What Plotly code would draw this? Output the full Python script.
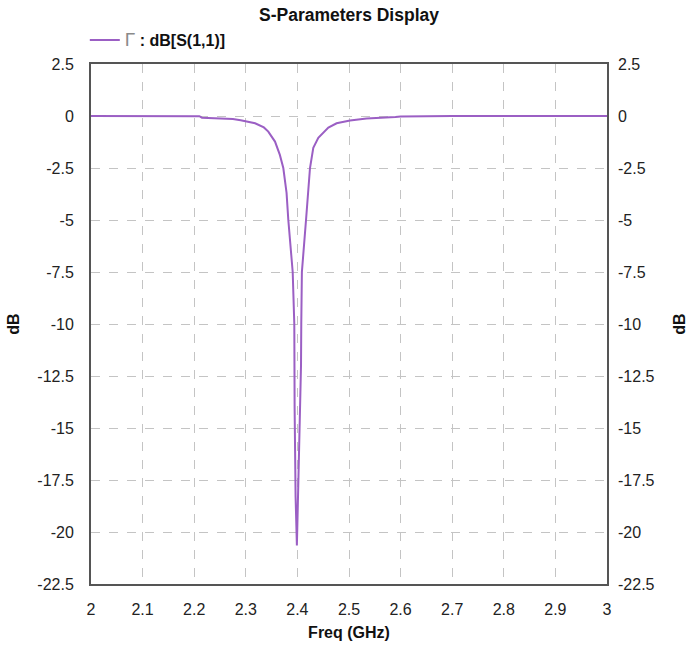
import plotly.graph_objects as go

# Return loss of the antenna port, S(1,1) in dB, versus frequency in GHz
freq_ghz = [
    2.000, 2.100, 2.210, 2.215, 2.275, 2.290, 2.308, 2.318, 2.335, 2.3436,
    2.3566, 2.366, 2.3727, 2.379, 2.3824, 2.3909, 2.3940, 2.3943, 2.3946,
    2.3965, 2.3990, 2.4010, 2.4035, 2.4045, 2.4060, 2.4070, 2.4075, 2.4087,
    2.4167, 2.4200, 2.4244, 2.4308, 2.4405, 2.4600, 2.4760, 2.5020, 2.5340,
    2.5900, 2.6000, 2.7000, 2.8000, 2.9000, 3.0000,
]
s11_db = [
    0.00, 0.00, -0.01, -0.08, -0.14, -0.20, -0.30, -0.35, -0.55, -0.75,
    -1.23, -1.87, -2.50, -3.70, -5.00, -7.50, -10.00, -12.50, -14.00,
    -18.30, -20.65, -18.50, -16.00, -14.50, -13.00, -12.00, -10.00, -7.50,
    -5.00, -3.70, -2.50, -1.53, -1.05, -0.56, -0.35, -0.22, -0.12,
    -0.05, -0.02, 0.00, 0.00, 0.00, 0.00,
]

x_ticks = [2.0, 2.1, 2.2, 2.3, 2.4, 2.5, 2.6, 2.7, 2.8, 2.9, 3.0]
x_tick_text = ["2", "2.1", "2.2", "2.3", "2.4", "2.5", "2.6", "2.7", "2.8", "2.9", "3"]
y_ticks = [2.5, 0, -2.5, -5, -7.5, -10, -12.5, -15, -17.5, -20, -22.5]
y_tick_text = ["2.5", "0", "-2.5", "-5", "-7.5", "-10", "-12.5", "-15", "-17.5", "-20", "-22.5"]

FONT = "Liberation Sans, Arial, sans-serif"
LINE_COLOR = "#9b5fc4"
GRID_COLOR = "#c4c4c4"
FRAME_COLOR = "#555555"
TICK_FONT = dict(family=FONT, size=16, color="#222")
TITLE_FONT = dict(family=FONT, size=16, color="#111")

fig = go.Figure()
fig.add_trace(go.Scatter(
    x=freq_ghz, y=s11_db, mode="lines",
    line=dict(color=LINE_COLOR, width=2),
    name="<span style='color:#8a8a8a;font-size:19px'>Γ</span><b> : dB[S(1,1)]</b>",
    showlegend=True,
))
# invisible trace to carry the mirrored right-hand axis
fig.add_trace(go.Scatter(
    x=[freq_ghz[0]], y=[s11_db[0]], yaxis="y2", mode="lines",
    line=dict(color="rgba(0,0,0,0)"), showlegend=False, hoverinfo="skip",
))

axis_common = dict(
    showgrid=True, gridcolor=GRID_COLOR, griddash="dash", gridwidth=1,
    showline=True, linecolor=FRAME_COLOR, linewidth=2,
    ticks="", zeroline=False, automargin=False,
    tickfont=TICK_FONT,
)

fig.update_layout(
    width=688, height=647,
    margin=dict(l=91, r=81, t=64, b=63),
    paper_bgcolor="white", plot_bgcolor="white",
    font=dict(family=FONT, color="#222"),
    title=dict(
        text="<b>S-Parameters Display</b>",
        x=349 / 688, xanchor="center",
        y=1 - 15 / 647, yanchor="middle",
        font=dict(family=FONT, size=17.5, color="#111"),
    ),
    legend=dict(
        x=-0.012, xanchor="left", y=1 + 24 / 520, yanchor="middle",
        bgcolor="rgba(0,0,0,0)", borderwidth=0,
        font=dict(family=FONT, size=16, color="#111"),
        itemwidth=30,
    ),
    xaxis=dict(
        axis_common,
        range=[2.0, 3.0], tickvals=x_ticks, ticktext=x_tick_text,
        mirror=True, ticklabelstandoff=10,
        title=dict(text="<b>Freq (GHz)</b>", font=TITLE_FONT, standoff=10),
    ),
    yaxis=dict(
        axis_common,
        range=[-22.5, 2.5], tickvals=y_ticks, ticktext=y_tick_text,
        mirror=True, ticklabelstandoff=12,
        title=dict(text="<b>dB</b>", font=TITLE_FONT, standoff=14),
    ),
    yaxis2=dict(
        overlaying="y", side="right",
        range=[-22.5, 2.5], tickvals=y_ticks, ticktext=y_tick_text,
        showgrid=False, showline=False, zeroline=False, ticks="",
        automargin=False,
        tickfont=TICK_FONT,
        ticklabelstandoff=10,
        title=dict(text="<b>dB</b>", font=TITLE_FONT, standoff=20),
    ),
)

fig.write_html("out.html")
